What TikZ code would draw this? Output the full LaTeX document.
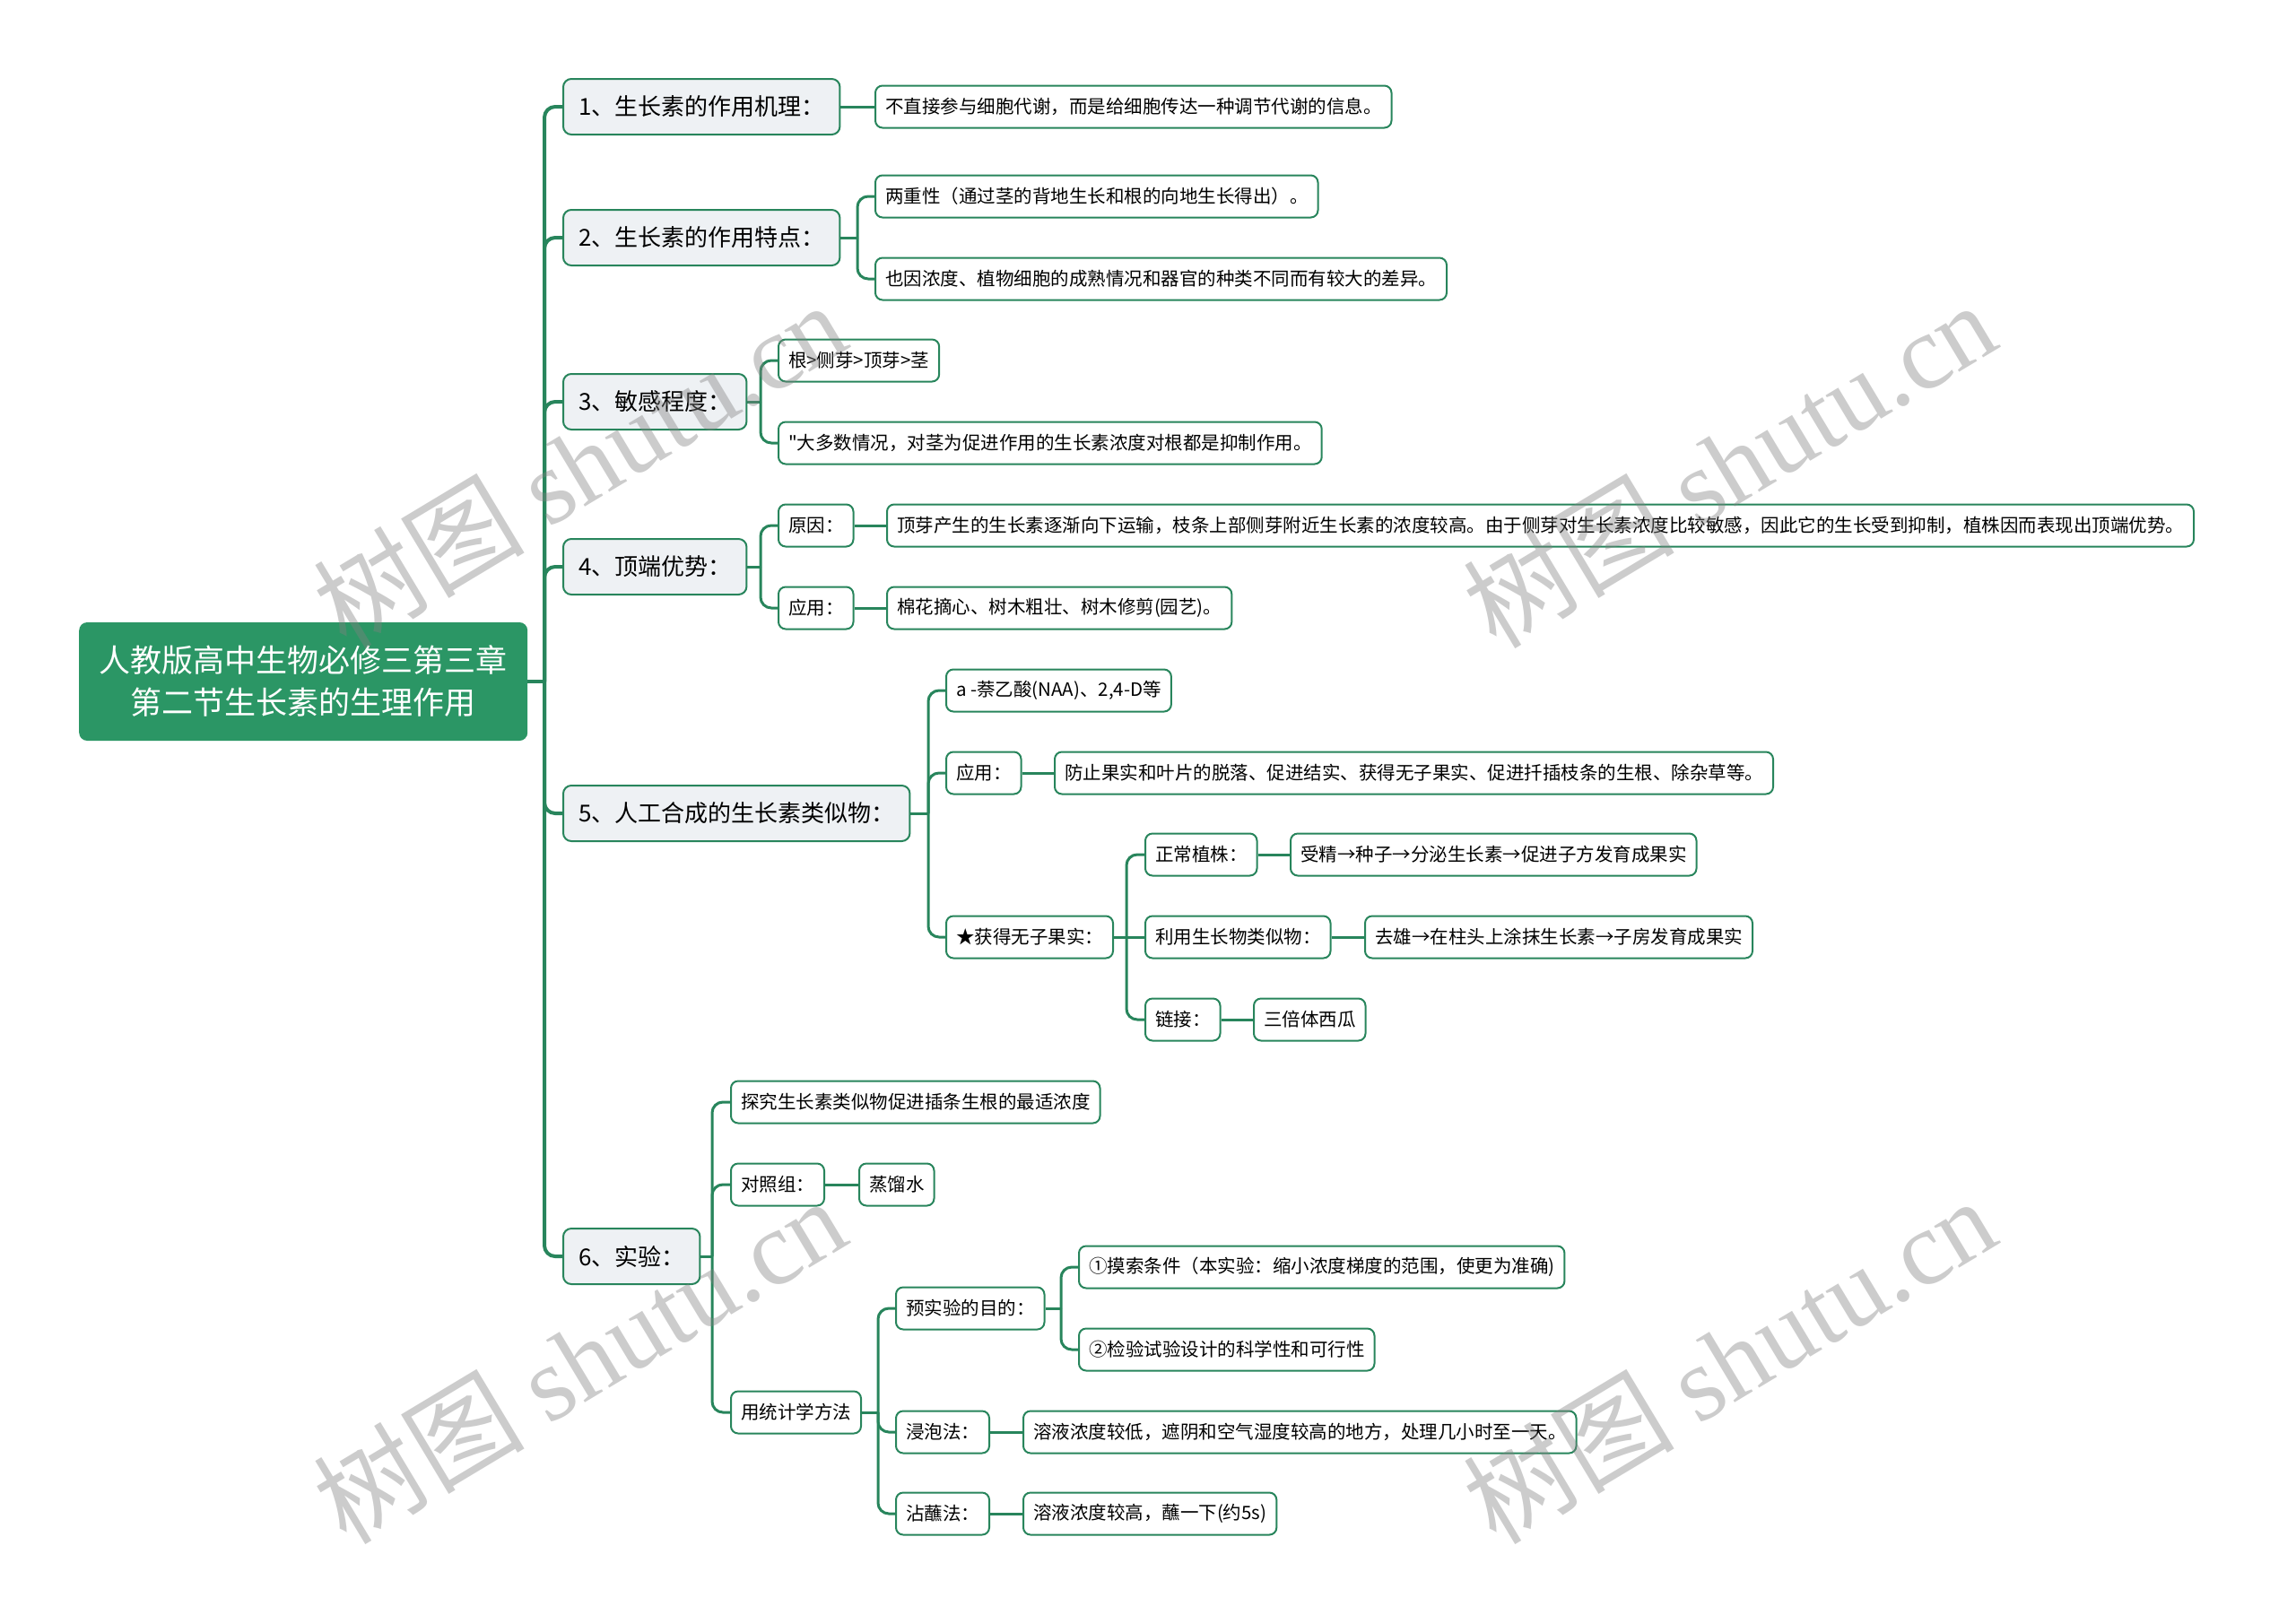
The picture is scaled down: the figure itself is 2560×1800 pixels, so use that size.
\documentclass[tikz,border=0pt]{standalone}
\usepackage{fontspec}
\setmainfont{Noto Sans CJK SC}[Ligatures=TeXOff]
\newfontfamily\wmfont{Liberation Serif}
\pgfdeclarelayer{edgelayer}
\pgfdeclarelayer{nodelayer}
\pgfsetlayers{edgelayer,nodelayer,main}
\definecolor{mmgreen}{RGB}{43,150,101}
\definecolor{mmline}{RGB}{40,133,92}
\definecolor{mmtopic}{RGB}{238,241,244}
\tikzset{x=1pt,y=-1pt}
\tikzstyle{none}=[inner sep=0pt]
\tikzstyle{root}=[rectangle,rounded corners=9pt,fill=mmgreen,text=white,align=center,minimum width=500pt,minimum height=132pt,anchor=west,font=\fontsize{35}{47}\selectfont]
\tikzstyle{topic}=[rectangle,rounded corners=9pt,draw=mmline,line width=2pt,fill=mmtopic,inner xsep=17pt,minimum height=62pt,anchor=west,font=\fontsize{26}{30}\selectfont]
\tikzstyle{leaf}=[rectangle,rounded corners=8pt,draw=mmline,line width=2pt,fill=white,inner xsep=11pt,minimum height=47pt,anchor=west,font=\fontsize{20.5}{24}\selectfont]
\tikzstyle{trunk}=[draw=mmline,line width=4pt,rounded corners=12pt]
\tikzstyle{branch}=[draw=mmline,line width=3pt,rounded corners=12pt]
\tikzstyle{wmark}=[text=black!50,opacity=0.4,rotate=31,font=\fontsize{118}{118}\selectfont]

\begin{document}
\begin{tikzpicture}
	\useasboundingbox (0,0) rectangle (2560,1800);
	\begin{pgfonlayer}{nodelayer}
		\node [style=root] (0) at (88, 760) {人教版高中生物必修三第三章\\第二节生长素的生理作用};
		\node [style=topic] (1) at (627, 119) {1、生长素的作用机理：};
		\node [style=topic] (2) at (627, 265) {2、生长素的作用特点：};
		\node [style=topic] (3) at (627, 448) {3、敏感程度：};
		\node [style=topic] (4) at (627, 632) {4、顶端优势：};
		\node [style=topic] (5) at (627, 907) {5、人工合成的生长素类似物：};
		\node [style=topic] (6) at (627, 1401) {6、实验：};
		\node [style=leaf] (7) at (975, 119) {不直接参与细胞代谢，而是给细胞传达一种调节代谢的信息。};
		\node [style=leaf] (8) at (975, 219) {两重性（通过茎的背地生长和根的向地生长得出）。};
		\node [style=leaf] (9) at (975, 311) {也因浓度、植物细胞的成熟情况和器官的种类不同而有较大的差异。};
		\node [style=leaf] (10) at (867, 402) {根>侧芽>顶芽>茎};
		\node [style=leaf] (11) at (867, 494) {"大多数情况，对茎为促进作用的生长素浓度对根都是抑制作用。};
		\node [style=leaf] (12) at (867, 586) {原因：};
		\node [style=leaf] (13) at (988, 586) {顶芽产生的生长素逐渐向下运输，枝条上部侧芽附近生长素的浓度较高。由于侧芽对生长素浓度比较敏感，因此它的生长受到抑制，植株因而表现出顶端优势。};
		\node [style=leaf] (14) at (867, 678) {应用：};
		\node [style=leaf] (15) at (988, 678) {棉花摘心、树木粗壮、树木修剪(园艺)。};
		\node [style=leaf] (16) at (1054, 770) {a -萘乙酸(NAA)、2,4-D等};
		\node [style=leaf] (17) at (1054, 862) {应用：};
		\node [style=leaf] (18) at (1175, 862) {防止果实和叶片的脱落、促进结实、获得无子果实、促进扦插枝条的生根、除杂草等。};
		\node [style=leaf] (19) at (1054, 1045) {★获得无子果实：};
		\node [style=leaf] (20) at (1276, 953) {正常植株：};
		\node [style=leaf] (21) at (1438, 953) {受精→种子→分泌生长素→促进子方发育成果实};
		\node [style=leaf] (22) at (1276, 1045) {利用生长物类似物：};
		\node [style=leaf] (23) at (1521, 1045) {去雄→在柱头上涂抹生长素→子房发育成果实};
		\node [style=leaf] (24) at (1276, 1137) {链接：};
		\node [style=leaf] (25) at (1397, 1137) {三倍体西瓜};
		\node [style=leaf] (26) at (814, 1229) {探究生长素类似物促进插条生根的最适浓度};
		\node [style=leaf] (27) at (814, 1321) {对照组：};
		\node [style=leaf] (28) at (957, 1321) {蒸馏水};
		\node [style=leaf] (29) at (814, 1575) {用统计学方法};
		\node [style=leaf] (30) at (998, 1459) {预实验的目的：};
		\node [style=leaf] (31) at (1202, 1413) {①摸索条件（本实验：缩小浓度梯度的范围，使更为准确)};
		\node [style=leaf] (32) at (1202, 1505) {②检验试验设计的科学性和可行性};
		\node [style=leaf] (33) at (998, 1597) {浸泡法：};
		\node [style=leaf] (34) at (1140, 1597) {溶液浓度较低，遮阴和空气湿度较高的地方，处理几小时至一天。};
		\node [style=leaf] (35) at (998, 1688) {沾蘸法：};
		\node [style=leaf] (36) at (1140, 1688) {溶液浓度较高，蘸一下(约5s)};
		\node [style=none] (37) at (607, 760) {};
		\node [style=none] (38) at (956, 265) {};
		\node [style=none] (39) at (848, 448) {};
		\node [style=none] (40) at (848, 632) {};
		\node [style=none] (41) at (1035, 907) {};
		\node [style=none] (42) at (1256, 1045) {};
		\node [style=none] (43) at (794, 1401) {};
		\node [style=none] (44) at (979, 1575) {};
		\node [style=none] (45) at (1183, 1459) {};
	\end{pgfonlayer}
	\begin{pgfonlayer}{edgelayer}
		\draw [style=trunk] (0.east) to (37.center);
		\draw [style=trunk] (37.center) |- (1.west);
		\draw [style=trunk] (37.center) |- (2.west);
		\draw [style=trunk] (37.center) |- (3.west);
		\draw [style=trunk] (37.center) |- (4.west);
		\draw [style=trunk] (37.center) |- (5.west);
		\draw [style=trunk] (37.center) |- (6.west);
		\draw [style=branch] (1.east) to (7.west);
		\draw [style=branch] (2.east) to (38.center);
		\draw [style=branch] (38.center) |- (8.west);
		\draw [style=branch] (38.center) |- (9.west);
		\draw [style=branch] (3.east) to (39.center);
		\draw [style=branch] (39.center) |- (10.west);
		\draw [style=branch] (39.center) |- (11.west);
		\draw [style=branch] (4.east) to (40.center);
		\draw [style=branch] (40.center) |- (12.west);
		\draw [style=branch] (40.center) |- (14.west);
		\draw [style=branch] (12.east) to (13.west);
		\draw [style=branch] (14.east) to (15.west);
		\draw [style=branch] (5.east) to (41.center);
		\draw [style=branch] (41.center) |- (16.west);
		\draw [style=branch] (41.center) |- (17.west);
		\draw [style=branch] (41.center) |- (19.west);
		\draw [style=branch] (17.east) to (18.west);
		\draw [style=branch] (19.east) to (42.center);
		\draw [style=branch] (42.center) |- (20.west);
		\draw [style=branch] (42.center) to (22.west);
		\draw [style=branch] (42.center) |- (24.west);
		\draw [style=branch] (20.east) to (21.west);
		\draw [style=branch] (22.east) to (23.west);
		\draw [style=branch] (24.east) to (25.west);
		\draw [style=branch] (6.east) to (43.center);
		\draw [style=branch] (43.center) |- (26.west);
		\draw [style=branch] (43.center) |- (27.west);
		\draw [style=branch] (43.center) |- (29.west);
		\draw [style=branch] (27.east) to (28.west);
		\draw [style=branch] (29.east) to (44.center);
		\draw [style=branch] (44.center) |- (30.west);
		\draw [style=branch] (44.center) |- (33.west);
		\draw [style=branch] (44.center) |- (35.west);
		\draw [style=branch] (30.east) to (45.center);
		\draw [style=branch] (45.center) |- (31.west);
		\draw [style=branch] (45.center) |- (32.west);
		\draw [style=branch] (33.east) to (34.west);
		\draw [style=branch] (35.east) to (36.west);
	\end{pgfonlayer}
	% watermarks
	\node [style=wmark] (46) at (646, 517) {树图 {\wmfont shutu.cn}};
	\node [style=wmark] (47) at (1928, 517) {树图 {\wmfont shutu.cn}};
	\node [style=wmark] (48) at (646, 1516) {树图 {\wmfont shutu.cn}};
	\node [style=wmark] (49) at (1928, 1516) {树图 {\wmfont shutu.cn}};
\end{tikzpicture}
\end{document}
